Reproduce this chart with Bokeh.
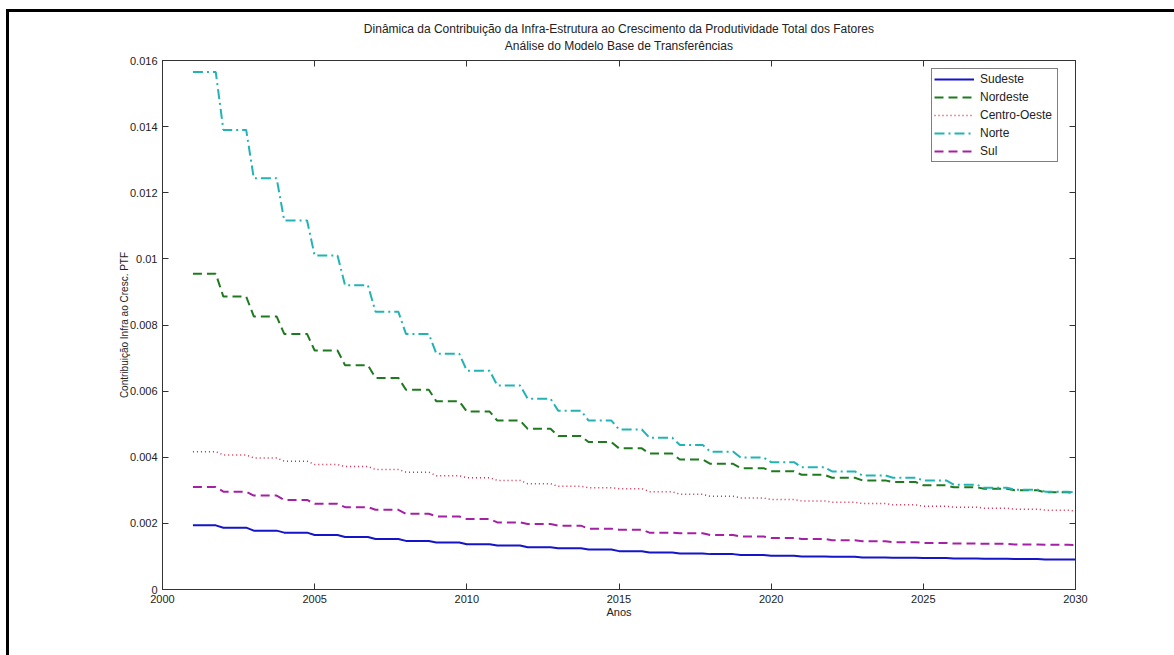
from bokeh.plotting import figure
from bokeh.models import (Range1d, LinearAxis, FixedTicker, CustomJSTickFormatter,
                          Legend, LegendItem, ColumnDataSource, Title)
from bokeh.embed import file_html
from bokeh.resources import INLINE

years = list(range(2001, 2031))

sudeste = [0.00194, 0.00187, 0.00178, 0.00172, 0.00165, 0.00159, 0.00153, 0.00147, 0.00142, 0.00137,
           0.00133, 0.00128, 0.00125, 0.00121, 0.00116, 0.00112, 0.00109, 0.00107, 0.00104, 0.00102,
           0.00100, 0.00099, 0.00097, 0.00096, 0.00095, 0.00094, 0.00093, 0.00092, 0.00091, 0.00091]
nordeste = [0.00955, 0.00886, 0.00826, 0.00773, 0.00723, 0.00678, 0.00640, 0.00604, 0.00569, 0.00538,
            0.00511, 0.00486, 0.00464, 0.00446, 0.00427, 0.00411, 0.00393, 0.00380, 0.00367, 0.00358,
            0.00347, 0.00338, 0.00330, 0.00325, 0.00315, 0.00309, 0.00305, 0.00300, 0.00294, 0.00290]
centro_oeste = [0.00417, 0.00407, 0.00398, 0.00388, 0.00378, 0.00372, 0.00363, 0.00355, 0.00344, 0.00338,
                0.00330, 0.00320, 0.00312, 0.00308, 0.00305, 0.00296, 0.00288, 0.00282, 0.00277, 0.00272,
                0.00268, 0.00264, 0.00260, 0.00256, 0.00252, 0.00249, 0.00246, 0.00243, 0.00240, 0.00237]
norte = [0.01565, 0.01390, 0.01244, 0.01116, 0.01010, 0.00920, 0.00840, 0.00773, 0.00713, 0.00662,
         0.00617, 0.00577, 0.00541, 0.00511, 0.00484, 0.00459, 0.00437, 0.00417, 0.00399, 0.00385,
         0.00370, 0.00357, 0.00345, 0.00338, 0.00330, 0.00317, 0.00308, 0.00302, 0.00296, 0.00293]
sul = [0.00310, 0.00296, 0.00284, 0.00271, 0.00259, 0.00249, 0.00241, 0.00229, 0.00221, 0.00213,
       0.00203, 0.00198, 0.00193, 0.00184, 0.00181, 0.00172, 0.00170, 0.00165, 0.00160, 0.00156,
       0.00153, 0.00149, 0.00146, 0.00143, 0.00141, 0.00139, 0.00138, 0.00136, 0.00135, 0.00134]

x_ticks = [2000, 2005, 2010, 2015, 2020, 2025, 2030]
y_ticks = [0, 0.002, 0.004, 0.006, 0.008, 0.010, 0.012, 0.014, 0.016]

title_line1 = "Dinâmica da Contribuição da Infra-Estrutura ao Crescimento da Produtividade Total dos Fatores"
title_line2 = "Análise do Modelo Base de Transferências"
x_label = "Anos"
y_label = "Contribuição Infra ao Cresc. PTF"

series = [
    ("Sudeste", sudeste, "#1414c8", "solid", 2),
    ("Nordeste", nordeste, "#1e7a1e", "9 5", 2),
    ("Centro-Oeste", centro_oeste, "#d02848", "1 3", 1.5),
    ("Norte", norte, "#22b4b4", "10 4 2 4", 2),
    ("Sul", sul, "#a420a4", "9 5", 2),
]

FONT = "Liberation Sans"

p = figure(width=1174, height=655, output_backend="svg", toolbar_location=None, title=None,
           x_range=Range1d(2000, 2030), y_range=Range1d(0, 0.016),
           min_border_left=162, min_border_right=99, min_border_top=60, min_border_bottom=66,
           x_axis_location=None, y_axis_location=None)
p.background_fill_color = "white"
p.border_fill_color = None
p.styles = {
    "background-color": "white",
    "background-image": "linear-gradient(#000, #000), linear-gradient(#000, #000)",
    "background-size": "3px 100%, 100% 3px",
    "background-position": "6px 9px, 6px 9px",
    "background-repeat": "no-repeat",
}
p.outline_line_color = "#333333"
p.outline_line_width = 1
p.xgrid.visible = False
p.ygrid.visible = False

ytick_fmt = CustomJSTickFormatter(code="return parseFloat(tick.toFixed(3)).toString();")


def style_axis(ax, labels=True):
    ax.axis_line_color = "#333333"
    ax.major_tick_line_color = "#333333"
    ax.major_tick_in = 6
    ax.major_tick_out = 0
    ax.minor_tick_line_color = None
    ax.major_label_text_font = FONT
    ax.major_label_text_font_size = "11px"
    ax.major_label_text_color = "#222222" if labels else None
    ax.axis_label_text_font = FONT
    ax.axis_label_text_font_size = "11px"
    ax.axis_label_text_font_style = "normal"
    ax.axis_label_text_color = "#222222"


xb = LinearAxis(ticker=FixedTicker(ticks=x_ticks), axis_label=x_label)
style_axis(xb)
xb.major_label_standoff = 5
xb.axis_label_standoff = 0
p.add_layout(xb, "below")

yl = LinearAxis(ticker=FixedTicker(ticks=y_ticks), formatter=ytick_fmt, axis_label=y_label)
style_axis(yl)
yl.major_label_standoff = 5
yl.axis_label_standoff = -3
yl.axis_label_text_font_size = "10px"
p.add_layout(yl, "left")

# top axis: inward ticks, carries the second title line as its label
xt = LinearAxis(ticker=FixedTicker(ticks=x_ticks), axis_label=title_line2)
style_axis(xt, labels=False)
xt.major_label_standoff = 0
xt.axis_label_standoff = 8
xt.axis_label_text_font_size = "12px"
p.add_layout(xt, "above")

yr = LinearAxis(ticker=FixedTicker(ticks=y_ticks))
style_axis(yr, labels=False)
yr.major_label_standoff = 0
p.add_layout(yr, "right")

t1 = Title(text=title_line1, align="center", text_font=FONT, text_font_size="12px",
           text_font_style="normal", text_color="#222222", standoff=0)
p.add_layout(t1, "above")

items = []
for name, vals, color, dash, lw in series:
    xs, ys = [], []
    for yr_, v in zip(years[:-1], vals[:-1]):
        for q in range(4):
            xs.append(yr_ + q * 0.25)
            ys.append(v)
    xs.append(years[-1])
    ys.append(vals[-1])
    src = ColumnDataSource(dict(x=xs, y=ys))
    r = p.line("x", "y", source=src, line_color=color, line_width=lw, line_dash=dash)
    items.append(LegendItem(label=name, renderers=[r]))

legend = Legend(items=items, location=(769, 427))
legend.label_text_font = FONT
legend.label_text_font_size = "12px"
legend.label_text_color = "#222222"
legend.glyph_width = 40
legend.glyph_height = 16
legend.label_height = 16
legend.label_width = 75
legend.label_standoff = 6
legend.spacing = 2
legend.padding = 2
legend.margin = 0
legend.border_line_color = "black"
legend.border_line_width = 1
legend.background_fill_color = "white"
legend.background_fill_alpha = 1
p.add_layout(legend, "center")

open("out.html", "w").write(file_html(p, INLINE))
